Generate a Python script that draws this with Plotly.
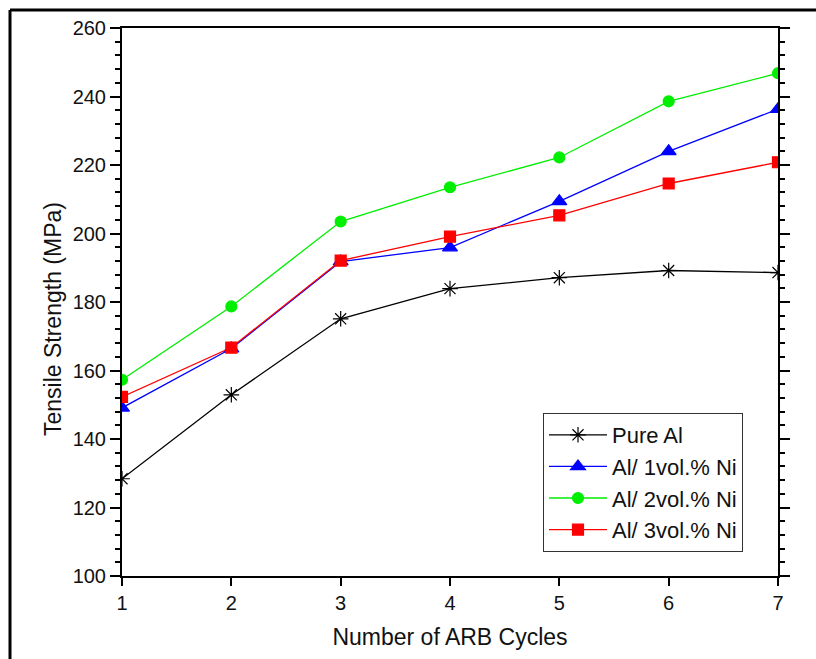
import plotly.graph_objects as go

cycles = [1, 2, 3, 4, 5, 6, 7]
pure_al = [128.4, 152.9, 175.1, 183.9, 187.1, 189.2, 188.6]
al_1ni = [149.1, 166.4, 191.8, 195.9, 209.4, 224.0, 236.3]
al_2ni = [157.3, 178.7, 203.5, 213.5, 222.2, 238.6, 246.8]
al_3ni = [152.3, 166.7, 192.1, 199.1, 205.3, 214.6, 220.8]

series = [
    ("Pure Al", pure_al, "#000000", "asterisk-open", 13),
    ("Al/ 1vol.% Ni", al_1ni, "#0000ff", "triangle-up", 13),
    ("Al/ 2vol.% Ni", al_2ni, "#00ee00", "circle", 11),
    ("Al/ 3vol.% Ni", al_3ni, "#ff0000", "square", 11),
]

fig = go.Figure()
for name, vals, col, sym, sz in series:
    fig.add_trace(go.Scatter(
        x=cycles, y=vals, name=name, mode="lines+markers",
        line=dict(color=col, width=1.3),
        marker=dict(symbol=sym, size=sz, color=col, line=dict(color=col, width=1.2)),
        cliponaxis=True,
    ))

L, R, T, B = 122, 38, 28, 83
W, H = 816, 659
pw, ph = W - L - R, H - T - B

def px_x(p):
    return (p - L) / pw

def px_y(p):
    return (H - B - p) / ph

fig.update_layout(
    width=W, height=H,
    margin=dict(l=L, r=R, t=T, b=B),
    paper_bgcolor="white", plot_bgcolor="white",
    font=dict(family="Liberation Sans, Arial, sans-serif", color="#111111", size=20),
    showlegend=True,
    legend=dict(
        x=px_x(543), y=px_y(413), xanchor="left", yanchor="top",
        bgcolor="white", bordercolor="#333333", borderwidth=1,
        font=dict(size=22), itemwidth=58, tracegroupgap=0,
    ),
    xaxis=dict(
        range=[1, 7], dtick=1, tick0=1,
        showline=True, linecolor="black", linewidth=2, mirror=True,
        ticks="outside", ticklen=8, tickwidth=2, tickcolor="black",
        showgrid=False, zeroline=False,
        tickfont=dict(size=20),
        title=dict(text="Number of ARB Cycles", font=dict(size=23), standoff=16),
    ),
    yaxis=dict(
        range=[100, 260], dtick=20, tick0=100,
        showline=True, linecolor="black", linewidth=2, mirror="ticks",
        ticks="outside", ticklen=10, tickwidth=2, tickcolor="black",
        minor=dict(dtick=4, ticks="outside", ticklen=5, tickwidth=2, tickcolor="black"),
        showgrid=False, zeroline=False,
        tickfont=dict(size=20),
    ),
    annotations=[
        dict(text="Tensile Strength (MPa)", xref="paper", yref="paper",
             x=px_x(53), y=px_y(319), xanchor="center", yanchor="middle",
             textangle=-90, showarrow=False, font=dict(size=23)),
    ],
    shapes=[
        dict(type="line", xref="paper", yref="paper",
             x0=px_x(10), x1=px_x(816), y0=px_y(10), y1=px_y(10),
             line=dict(color="black", width=3)),
        dict(type="line", xref="paper", yref="paper",
             x0=px_x(10), x1=px_x(10), y0=px_y(10), y1=px_y(659),
             line=dict(color="black", width=3)),
    ],
)

fig.write_html("out.html")
